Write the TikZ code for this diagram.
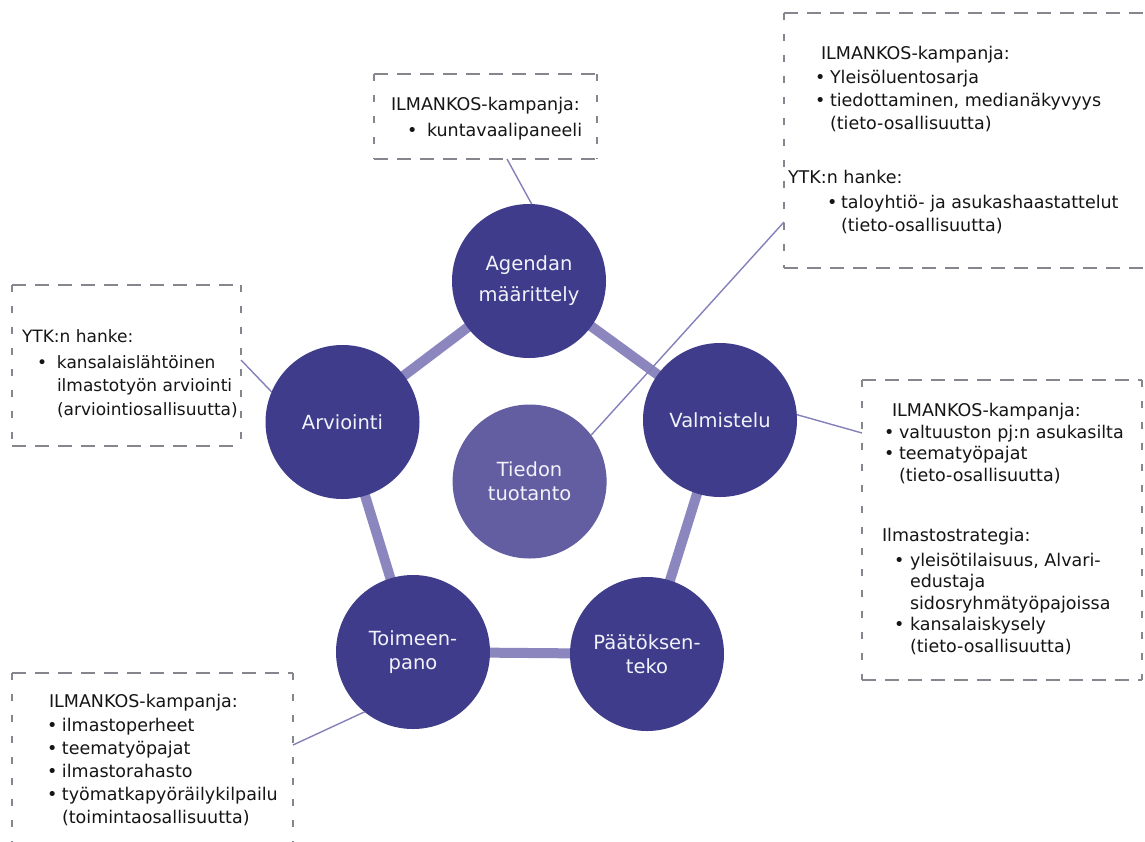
\documentclass[tikz,border=0pt]{standalone}
\usepackage{fontspec}
\setmainfont{DejaVu Sans}
\usetikzlibrary{backgrounds}

\definecolor{disc}{HTML}{3F3C8B}
\definecolor{core}{HTML}{635EA2}
\definecolor{spoke}{HTML}{8B87BE}
\definecolor{leader}{HTML}{8481BA}
\definecolor{frame}{HTML}{86868F}
\definecolor{ink}{HTML}{151515}
\definecolor{labelw}{HTML}{F2F2FA}

% lines of the note boxes: heading, bullet item, continuation line
\newcommand\bhead[1]{\hbox{#1}}
\newcommand\bhshift[2]{\hbox{\kern#1pt #2}}
\newcommand\bpoint[3]{\hbox{\kern#1pt\makebox[#2pt][l]{•}#3}}
\newcommand\bcont[2]{\hbox{\kern#1pt #2}}

% dashed outline of a note box (long dashes across, short ticks down)
\newcommand\noteframe[1]{%
  \draw[hdash] (#1.north west) -- (#1.north east) (#1.south west) -- (#1.south east);
  \draw[vdash] (#1.north west) -- (#1.south west) (#1.north east) -- (#1.south east);}

\begin{document}
\begin{tikzpicture}[x=1pt,y=-1pt,
  stage/.style={circle, fill=disc, minimum size=154pt, inner sep=0pt, outer sep=0pt,
    text=labelw, align=center, font=\fontsize{19.5}{24}\selectfont},
  hub/.style={stage, fill=core},
  bar/.style={draw=spoke, line width=10pt},
  link/.style={draw=leader, line width=1.4pt},
  notearea/.style={rectangle, draw=none, inner sep=0pt, outer sep=0pt},
  hdash/.style={draw=frame, line width=1.3pt, dash pattern=on 14pt off 9pt},
  vdash/.style={draw=frame, line width=1.3pt, dash pattern=on 7pt off 14pt},
  notetext/.style={anchor=base west, inner sep=0pt, outer sep=0pt, text=ink},
]
\useasboundingbox (0,0) rectangle (1145,841);

% ---- cycle of stages ----
\node[stage, font=\fontsize{19.5}{31}\selectfont] (Agendan) at (529,281) {Agendan\\määrittely};
\node[stage] (Valmistelu) at (720,420) {Valmistelu};
\node[stage] (Paatos) at (647,654) {Päätöksen-\\teko};
\node[stage] (Toimeenpano) at (413,652) {Toimeen-\\pano};
\node[stage] (Arviointi) at (342.5,422) {Arviointi};
\node[hub] (Tiedon) at (529.6,481.5) {Tiedon\\tuotanto};

\begin{pgfonlayer}{background}
  \fill[white] (0,0) rectangle (1145,841);
  \draw[bar] (Agendan.center) -- (Valmistelu.center);
  \draw[bar] (Valmistelu.center) -- (Paatos.center);
  \draw[bar] (Paatos.center) -- (Toimeenpano.center);
  \draw[bar] (Toimeenpano.center) -- (Arviointi.center);
  \draw[bar] (Arviointi.center) -- (Agendan.center);
\end{pgfonlayer}

% ---- note boxes ----
\node[notearea, minimum width=223pt, minimum height=85pt] (b1) at (485.5,116.5) {};
\node[notearea, minimum width=366pt, minimum height=255pt] (b2) at (967,140.5) {};
\node[notearea, minimum width=229pt, minimum height=161pt] (b3) at (126.5,365.5) {};
\node[notearea, minimum width=280pt, minimum height=300pt] (b4) at (1002,530) {};
\node[notearea, minimum width=281pt, minimum height=187pt] (b5) at (152.5,766.5) {};
\noteframe{b1}
\noteframe{b2}
\noteframe{b3}
\noteframe{b4}
\noteframe{b5}

\node[notetext] (t1) at (391,110) {\vtop{\fontsize{17.5}{26}\selectfont
  \bhead{ILMANKOS-kampanja:}
  \bpoint{16}{20}{kuntavaalipaneeli}}};

\node[notetext] (t2) at (821,59) {\vtop{\fontsize{17.5}{23}\selectfont
  \bhead{ILMANKOS-kampanja:}
  \vskip1pt
  \bpoint{-6}{15}{Yleisöluentosarja}
  \bpoint{-6}{15}{tiedottaminen, medianäkyvyys}
  \bcont{9}{(tieto-osallisuutta)}
  \vskip31pt
  \bhshift{-33}{YTK:n hanke:}
  \vskip2pt
  \bpoint{6}{14}{taloyhtiö- ja asukashaastattelut}
  \bcont{20}{(tieto-osallisuutta)}}};

\node[notetext] (t3) at (22,342) {\vtop{\fontsize{17}{23.5}\selectfont
  \bhead{YTK:n hanke:}
  \vskip2.5pt
  \bpoint{15}{20}{kansalaislähtöinen}
  \bcont{35}{ilmastotyön arviointi}
  \bcont{35}{(arviointiosallisuutta)}}};

\node[notetext] (t4) at (892,416) {\vtop{\fontsize{17.5}{21.5}\selectfont
  \bhead{ILMANKOS-kampanja:}
  \vskip0.5pt
  \bpoint{-8}{15}{valtuuston pj:n asukasilta}
  \bpoint{-8}{15}{teematyöpajat}
  \bcont{7}{(tieto-osallisuutta)}
  \vskip38.5pt
  \bhshift{-10}{Ilmastostrategia:}
  \vskip3.5pt
  \bpoint{2}{16}{yleisötilaisuus, Alvari-}
  \bcont{18}{edustaja}
  \bcont{18}{sidosryhmätyöpajoissa}
  \bpoint{2}{16}{kansalaiskysely}
  \bcont{18}{(tieto-osallisuutta)}}};

\node[notetext] (t5) at (49,707) {\vtop{\fontsize{17.5}{23}\selectfont
  \bhead{ILMANKOS-kampanja:}
  \vskip1pt
  \bpoint{-2}{15}{ilmastoperheet}
  \bpoint{-2}{15}{teematyöpajat}
  \bpoint{-2}{15}{ilmastorahasto}
  \bpoint{-2}{15}{työmatkapyöräilykilpailu}
  \bcont{13}{(toimintaosallisuutta)}}};

% ---- leaders from notes to stages ----
\draw[link] (b1.south west) ++(133,0) -- (Agendan.88);
\draw[link] (b2.north west) ++(0,209) -- (Tiedon.37);
\draw[link] (b3.north east) ++(0,75) -- (Arviointi.157);
\draw[link] (b4.north west) ++(0,53) -- (Valmistelu.4);
\draw[link] (b5.north east) ++(0,72) -- (Toimeenpano.231);
\end{tikzpicture}
\end{document}
